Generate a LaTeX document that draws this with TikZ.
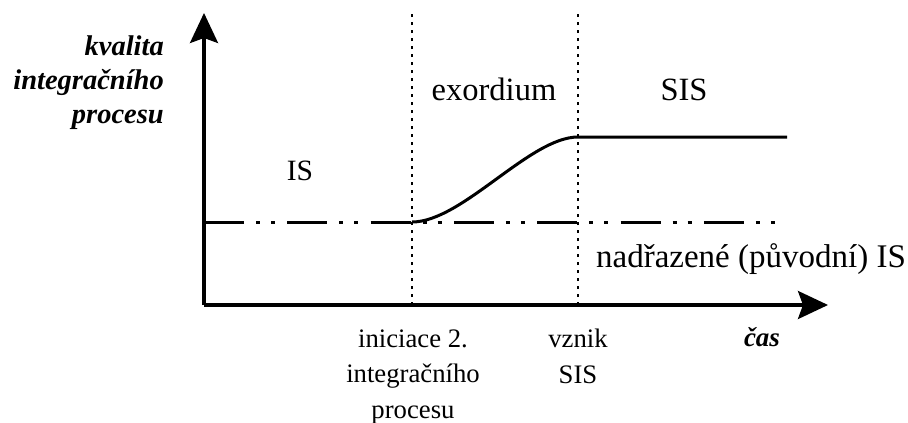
\documentclass[tikz,border=0pt]{standalone}
\usepackage{fontspec}
\setmainfont{Liberation Serif}
\usetikzlibrary{arrows.meta}
\begin{document}
\begin{tikzpicture}[x=1pt,y=-1pt,
  axis/.style={line width=3.2pt,-{Stealth[length=30pt,width=28pt,inset=5pt]}},
  vline/.style={line width=2.6pt,dash pattern=on 2.6pt off 5.4pt},
  baseline/.style={line width=3pt,dash pattern=on 40pt off 12pt on 4pt off 11pt on 4pt off 12.3pt},
  curve/.style={line width=3pt},
  big/.style={font=\fontsize{32.5}{34}\selectfont,inner sep=0pt,anchor=base},
  small/.style={font=\fontsize{26.7}{35.5}\selectfont,inner sep=0pt,align=center,anchor=base},
  ylab/.style={font=\fontsize{28.5}{34}\selectfont\bfseries\itshape,inner sep=0pt,align=right,anchor=base east}]
\useasboundingbox (0,0) rectangle (908,423);
\coordinate (O) at (204,305);
\coordinate (ytip) at (204,13);
\coordinate (xtip) at (828,305);
\coordinate (a0) at (412,305);
\coordinate (a1) at (412,14);
\coordinate (b0) at (578,305);
\coordinate (b1) at (578,14);
\coordinate (d0) at (204,222);
\coordinate (d1) at (776,222);
\coordinate (c0) at (412,222);
\coordinate (c1) at (578,137);
\coordinate (c2) at (787,137);
\draw[vline] (a0) -- (a1);
\draw[vline] (b0) -- (b1);
\draw[baseline] (d0) -- (d1);
\draw[curve] (c0) .. controls (462,222) and (530,137) .. (c1) -- (c2);
\draw[axis] (O) -- (ytip);
\draw[axis] (O) -- (xtip);
\node[ylab] (yl) at (164,123) {kvalita\\integračního\\procesu};
\node[big,font=\fontsize{29.5}{34}\selectfont] (is) at (300,180) {IS};
\node[big] (ex) at (494,100) {exordium};
\node[big] (sis) at (684,100) {SIS};
\node[big,font=\fontsize{33}{36}\selectfont] (nad) at (751,267) {nadřazené (původní) IS};
\node[small] (ini) at (413,418) {iniciace 2.\\integračního\\procesu};
\node[small] (vz) at (578,383) {vznik\\SIS};
\node[font=\fontsize{27}{30}\selectfont\bfseries\itshape,inner sep=0pt,anchor=base] (cas) at (762,346) {čas};
\end{tikzpicture}
\end{document}
